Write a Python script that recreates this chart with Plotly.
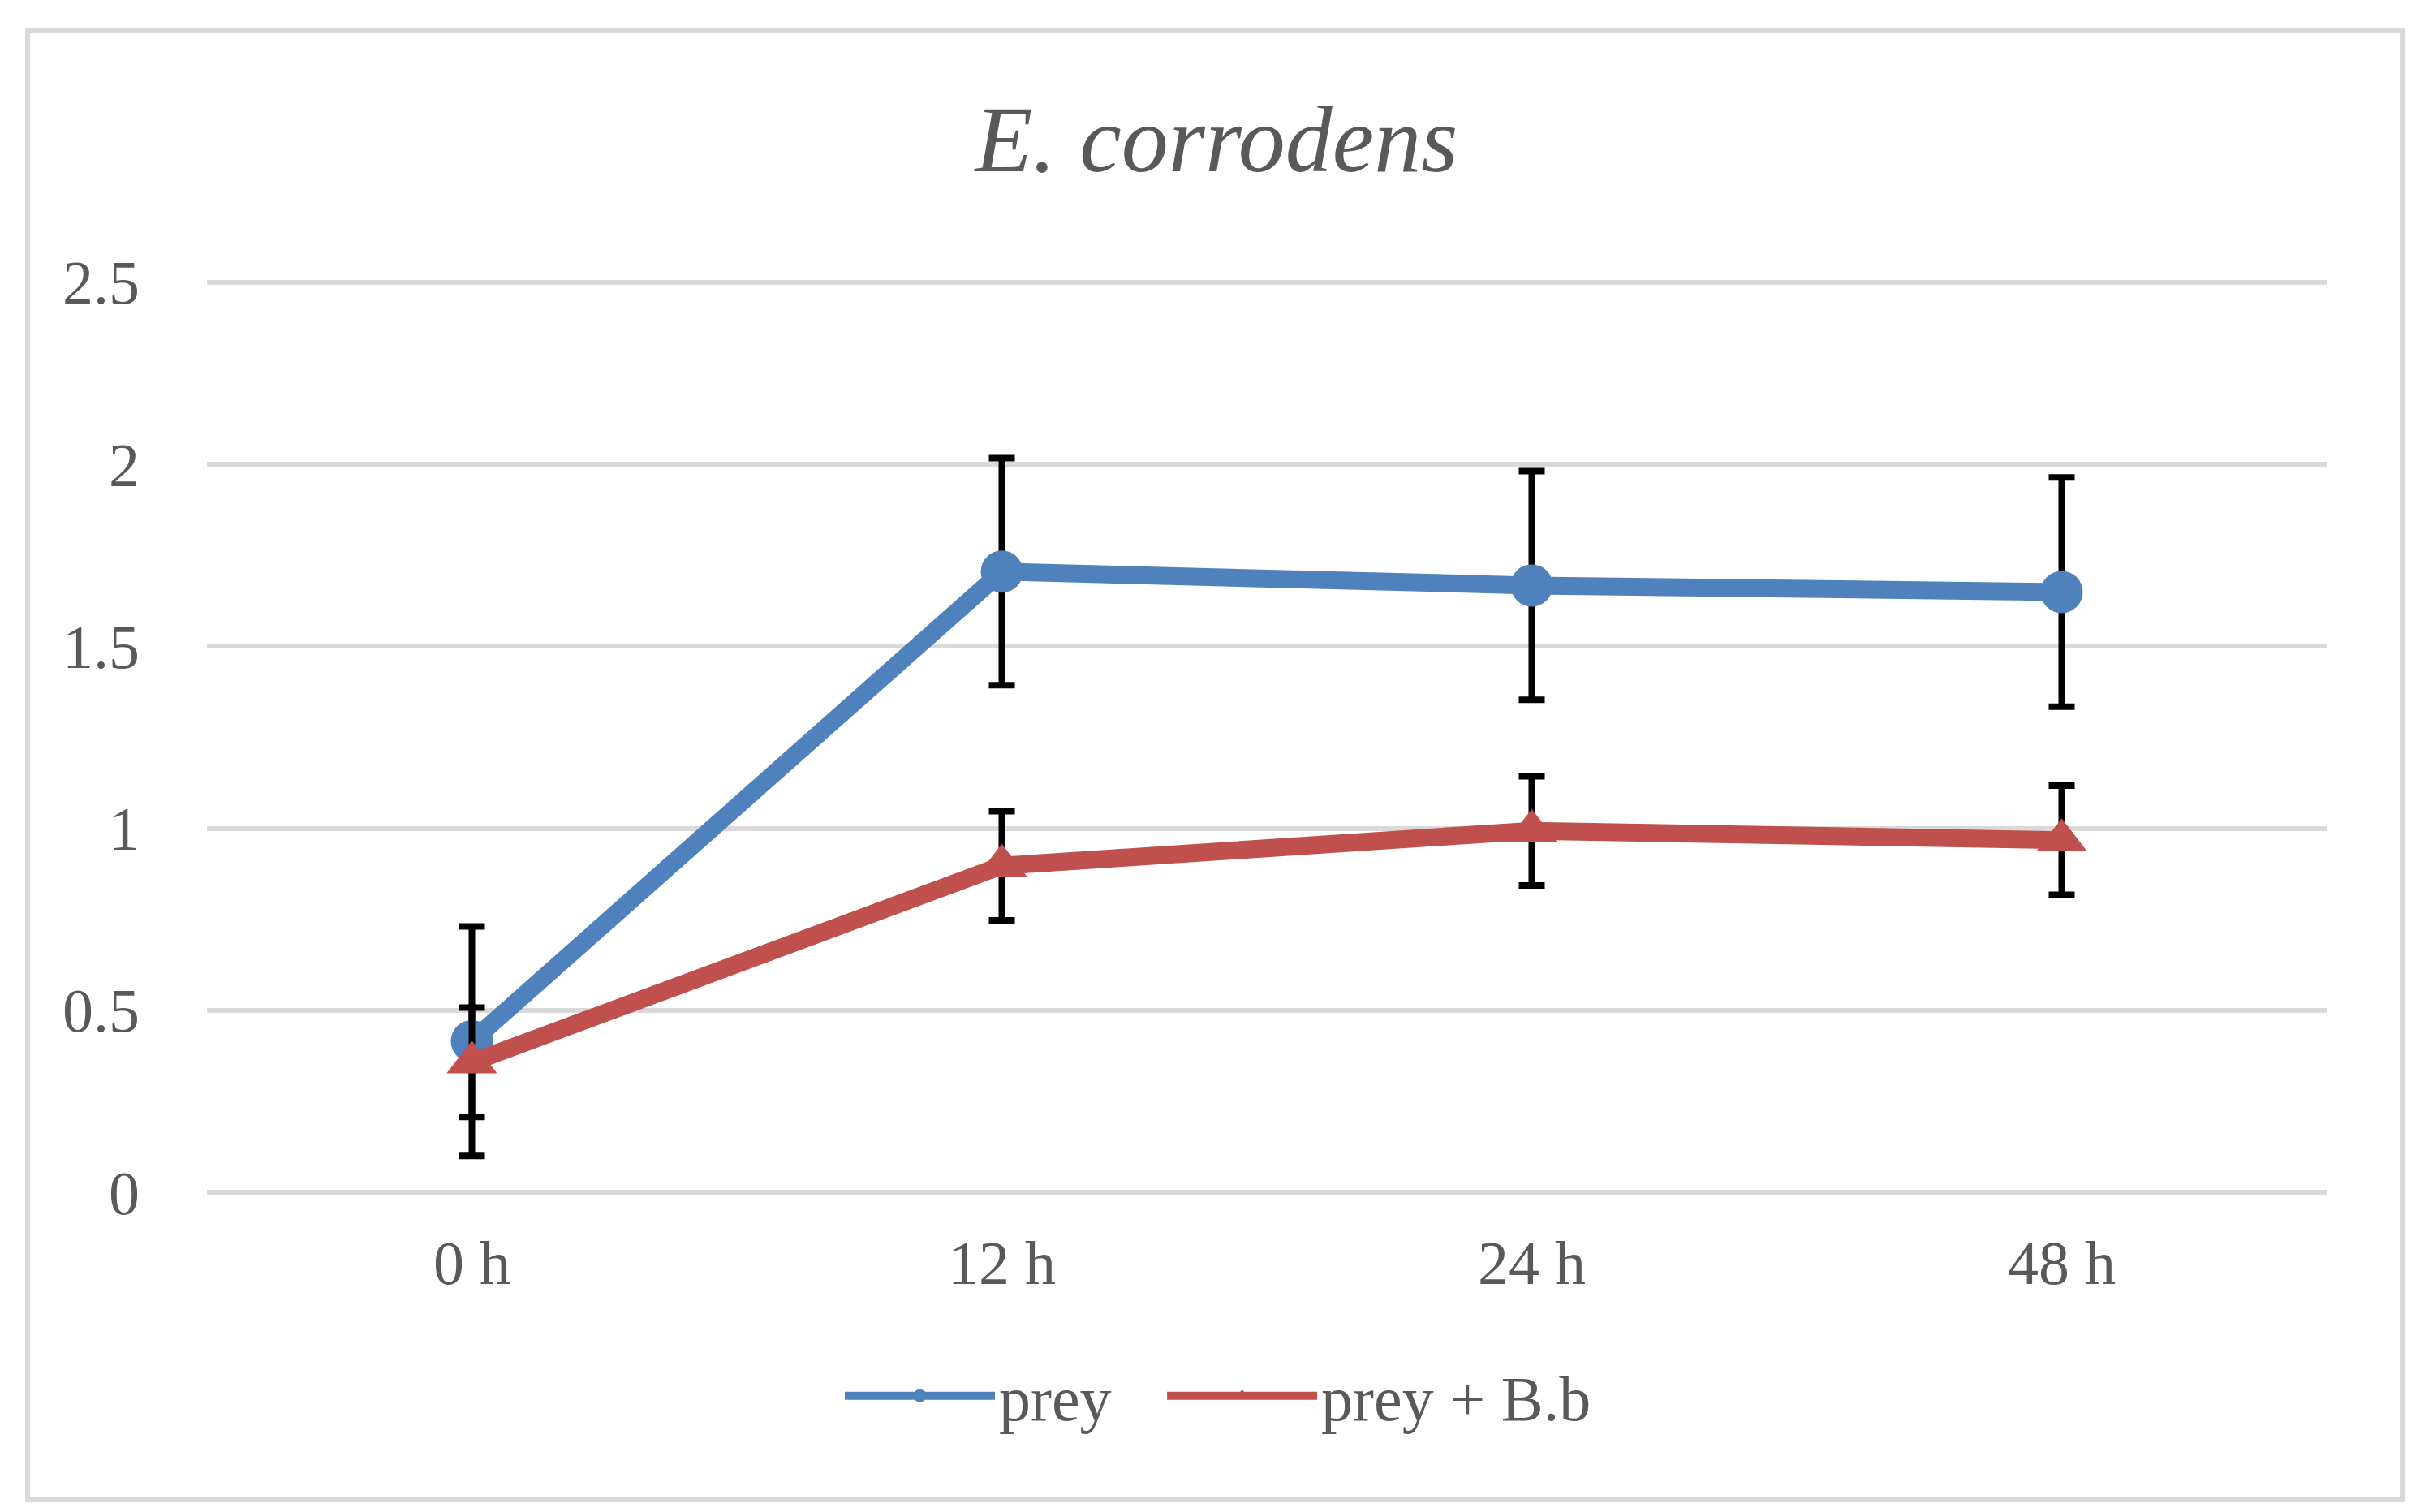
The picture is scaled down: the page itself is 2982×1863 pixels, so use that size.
import plotly.graph_objects as go

categories = ["0 h", "12 h", "24 h", "48 h"]
prey = [0.415, 1.705, 1.667, 1.649]
prey_err = [0.315, 0.312, 0.314, 0.315]
prey_bb = [0.357, 0.897, 0.993, 0.967]
prey_bb_err = [0.150, 0.150, 0.150, 0.150]
series_names = ["prey", "prey + B.b"]
y_ticks = [0, 0.5, 1, 1.5, 2, 2.5]
y_tick_labels = ["0", "0.5", "1", "1.5", "2", "2.5"]

FONT = "Liberation Serif"
GREY = "#595959"
W, H = 2982, 1863
L, R, T, B = 247, 123, 338, 402
NBSP = "\u00a0"

fig = go.Figure()
fig.add_trace(go.Scatter(
    x=categories, y=prey, name=series_names[0] + NBSP * 3, mode="lines+markers",
    line=dict(color="#4F81BD", width=22),
    marker=dict(symbol="circle", size=52, color="#4F81BD"),
    error_y=dict(type="data", array=prey_err, visible=True,
                 color="black", thickness=8, width=16),
))
fig.add_trace(go.Scatter(
    x=categories, y=prey_bb, name=series_names[1], mode="lines+markers",
    line=dict(color="#C0504D", width=22),
    marker=dict(symbol="triangle-up", size=54, color="#C0504D"),
    error_y=dict(type="data", array=prey_bb_err, visible=True,
                 color="black", thickness=8, width=16),
))

pw = W - L - R
ph = H - T - B
# outer chart border (decoration)
fig.add_shape(type="rect", xref="paper", yref="paper",
              x0=(26 - L) / pw, x1=(2952 - L) / pw,
              y0=-(1840 - (H - B)) / ph, y1=1 + (T - 30) / ph,
              line=dict(color="#D9D9D9", width=6), layer="below")

fig.update_layout(
    width=W, height=H,
    margin=dict(l=L, r=R, t=T, b=B),
    paper_bgcolor="white", plot_bgcolor="white",
    font=dict(family=FONT, color=GREY, size=76),
    title=dict(text="<i>E. corrodens</i>", x=0.5, xanchor="center",
               y=1 - 162 / H, yanchor="middle",
               font=dict(family=FONT, size=116, color=GREY)),
    showlegend=True,
    legend=dict(orientation="h", x=(1028 - L) / pw, xanchor="left",
                y=-(1712 - (H - B)) / ph, yanchor="middle",
                font=dict(family=FONT, size=78, color=GREY),
                itemwidth=185, bgcolor="rgba(0,0,0,0)"),
)
fig.update_xaxes(type="category", range=[-0.5, 3.5], showgrid=False,
                 showline=False, zeroline=False, ticks="",
                 tickfont=dict(family=FONT, size=76, color=GREY),
                 ticklabelstandoff=36)
fig.update_yaxes(range=[0, 2.504], tickvals=y_ticks, ticktext=y_tick_labels,
                 showgrid=True, gridcolor="#D9D9D9", gridwidth=6,
                 zeroline=True, zerolinecolor="#D9D9D9", zerolinewidth=6,
                 showline=False, ticks="",
                 tickfont=dict(family=FONT, size=76, color=GREY),
                 ticklabelstandoff=82)

fig.write_html("out.html")
